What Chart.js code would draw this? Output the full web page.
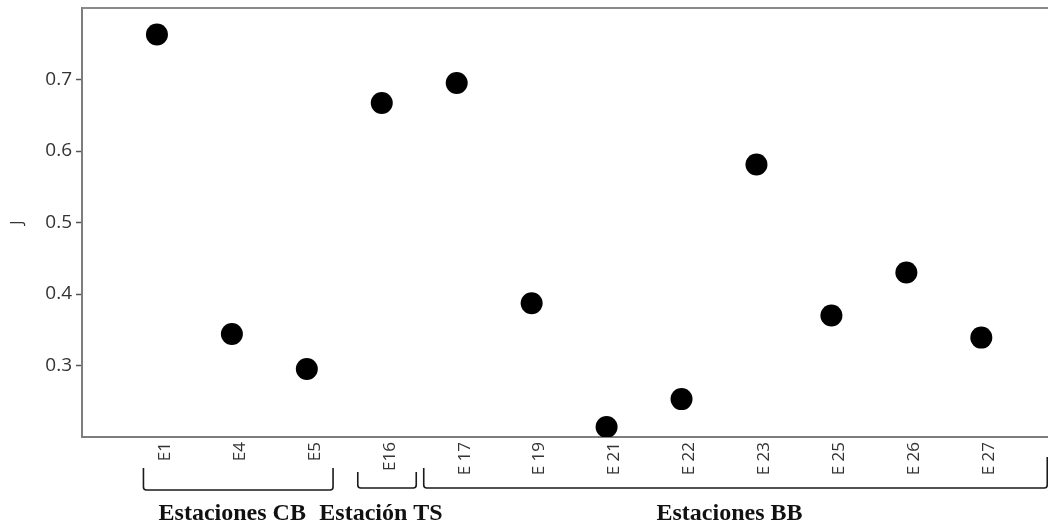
<!DOCTYPE html>
<html lang="es">
<head>
<meta charset="utf-8">
<title>Equitatividad J por estación</title>
<script src="https://cdn.jsdelivr.net/npm/chart.js@4.4.1/dist/chart.umd.min.js"></script>
<style>
  html, body { margin: 0; padding: 0; background: #ffffff; }
  #wrap { width: 1048px; height: 524px; }
</style>
</head>
<body>
<div id="wrap"><canvas id="c" width="1048" height="524"></canvas></div>
<script>
// Stations along the x axis
const stations = ['E1', 'E4', 'E5', 'E16', 'E 17', 'E 19', 'E 21', 'E 22', 'E 23', 'E 25', 'E 26', 'E 27'];
// Pielou evenness J for each station
const jValues = [0.763, 0.344, 0.295, 0.667, 0.695, 0.387, 0.214, 0.253, 0.581, 0.370, 0.430, 0.339];
// Y tick values shown on the axis
const yTicks = [0.3, 0.4, 0.5, 0.6, 0.7];
// Station groups and how many stations each holds (in order)
const groupNames = ['Estaciones CB', 'Estación TS', 'Estaciones BB'];
const groupSizes = [3, 1, 8];

const AXIS_GRAY = '#7d7d7d';
const TEXT_GRAY = '#333333';

// Draws the top frame line and the group brackets with their captions
const groupBrackets = {
  id: 'groupBrackets',
  afterDraw(chart, args, opts) {
    const { ctx, chartArea } = chart;
    const xs = chart.scales.x;
    ctx.save();
    // top frame line
    ctx.strokeStyle = '#8a8a8a';
    ctx.lineWidth = 2;
    ctx.beginPath();
    ctx.moveTo(chartArea.left, chartArea.top);
    ctx.lineTo(chartArea.right, chartArea.top);
    ctx.stroke();

    // brackets under the station labels
    let first = 1;
    groupSizes.forEach((size, g) => {
      const last = first + size - 1;
      const ext = opts.extents[g];
      const x0 = xs.getPixelForValue(first + ext[0]);
      const x1 = xs.getPixelForValue(last + ext[1]);
      const yTopL = chartArea.bottom + ext[2];
      const yTopR = chartArea.bottom + ext[3];
      const yBot = chartArea.bottom + ext[4];
      const r = 3;
      ctx.strokeStyle = '#1a1a1a';
      ctx.lineWidth = 1.6;
      ctx.beginPath();
      ctx.moveTo(x0, yTopL);
      ctx.arcTo(x0, yBot, x0 + r, yBot, r);
      ctx.arcTo(x1, yBot, x1, yBot - r, r);
      ctx.lineTo(x1, yTopR);
      ctx.stroke();

      ctx.fillStyle = '#111111';
      ctx.font = 'bold 24px "Liberation Serif", "DejaVu Serif", serif';
      ctx.textAlign = 'center';
      ctx.textBaseline = 'alphabetic';
      ctx.fillText(groupNames[g], (x0 + x1) / 2 - 6, chartArea.bottom + 83);
      first = last + 1;
    });
    ctx.restore();
  }
};

const points = stations.map((s, i) => ({ x: i + 1, y: jValues[i] }));

new Chart(document.getElementById('c'), {
  type: 'scatter',
  data: {
    datasets: [{
      data: points,
      backgroundColor: '#000000',
      borderWidth: 0,
      pointRadius: 11,
      pointHoverRadius: 11
    }]
  },
  options: {
    responsive: false,
    animation: false,
    layout: { autoPadding: false, padding: { top: 8, right: 0, bottom: 0, left: 0 } },
    plugins: {
      legend: { display: false },
      tooltip: { enabled: false },
      groupBrackets: {
        // [start offset, end offset, left top y, right top y, bottom y]
        extents: [
          [-0.18, 0.35, 31, 31, 53],
          [-0.32, 0.46, 35, 35, 51],
          [-0.44, 0.88, 31, 20, 51]
        ]
      }
    },
    scales: {
      x: {
        type: 'linear',
        min: 0,
        max: 12.89,
        afterBuildTicks(scale) {
          scale.ticks = stations.map((s, i) => ({ value: i + 1 }));
        },
        afterFit(scale) {
          scale.height = 87;
          scale.paddingLeft = 0;
          scale.paddingRight = 0;
        },
        ticks: {
          autoSkip: false,
          minRotation: 90,
          maxRotation: 90,
          padding: 5,
          labelOffset: 8,
          color: TEXT_GRAY,
          font: { family: '"Open Sans", "Noto Sans", sans-serif', size: 17 },
          callback: (v) => stations[Math.round(v) - 1] ?? ''
        },
        grid: { display: false, drawTicks: false },
        border: { display: true, color: AXIS_GRAY, width: 2 }
      },
      y: {
        min: 0.2,
        max: 0.8,
        afterBuildTicks(scale) {
          scale.ticks = yTicks.map(v => ({ value: v }));
        },
        afterFit(scale) {
          scale.width = 82;
          scale.paddingTop = 0;
          scale.paddingBottom = 0;
        },
        ticks: {
          padding: 4,
          color: TEXT_GRAY,
          font: { family: '"Open Sans", "Noto Sans", sans-serif', size: 19 },
          callback: (v) => v.toFixed(1)
        },
        grid: {
          drawOnChartArea: false,
          drawTicks: true,
          tickLength: 6,
          tickWidth: 1.5,
          tickColor: '#555555'
        },
        border: { display: true, color: AXIS_GRAY, width: 2 },
        title: {
          display: true,
          text: 'J',
          color: TEXT_GRAY,
          font: { family: '"Open Sans", "Noto Sans", sans-serif', size: 16 },
          padding: { top: 8, bottom: 0 }
        }
      }
    }
  },
  plugins: [groupBrackets]
});
</script>
</body>
</html>
